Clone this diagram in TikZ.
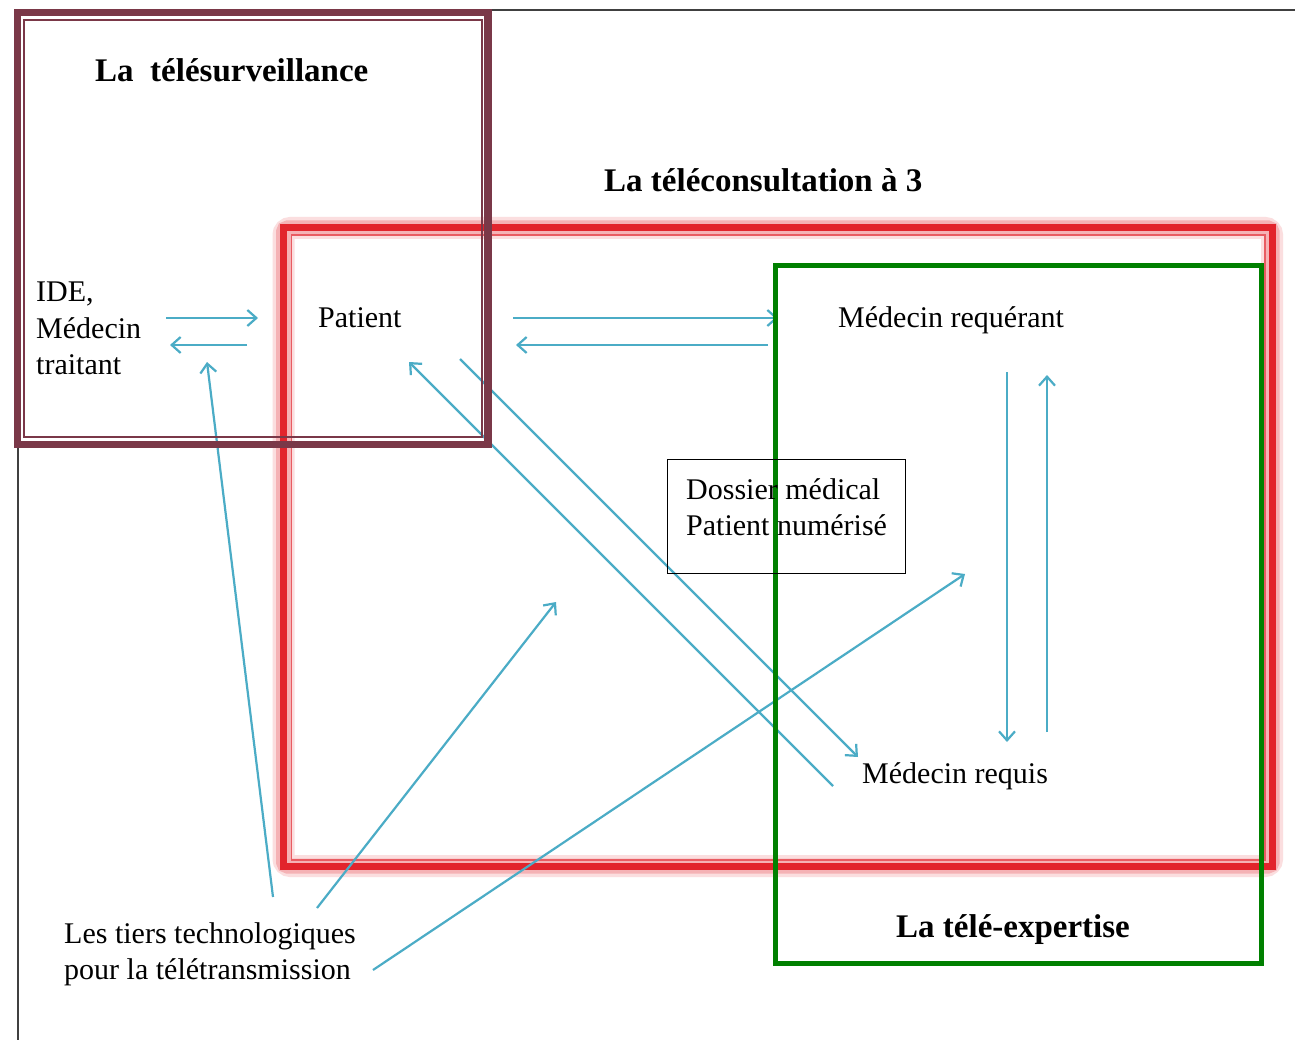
\documentclass[tikz,border=0pt]{standalone}
\usepackage{fontspec}
\setmainfont{Liberation Serif}
\usetikzlibrary{arrows.meta}
\definecolor{maroonbox}{RGB}{122,56,72}
\definecolor{redbox}{RGB}{226,36,44}
\definecolor{greenbox}{RGB}{0,128,0}
\definecolor{arrowblue}{RGB}{75,172,198}
\tikzset{
  conn/.style={draw=arrowblue, line width=2.2pt, -{Straight Barb[length=9pt,width=16pt,line width=2.2pt]}},
  plaintext/.style={anchor=base west, inner sep=0pt, font=\fontsize{30}{36.5}\selectfont},
  titletext/.style={anchor=base west, inner sep=0pt, font=\fontsize{33}{40}\selectfont\bfseries},
}
\begin{document}
\begin{tikzpicture}[x=1pt,y=-1pt]
\useasboundingbox (0,0) rectangle (1295,1040);
\fill[white] (0,0) rectangle (1295,1040);
% outer page frame
\draw[line width=2pt, black!75] (18,1045) -- (18,10) -- (1300,10);
% red box (la teleconsultation) with glow
\draw[redbox!15, line width=22pt, rounded corners=7pt] (283.5,228) rectangle (1272,866);
\draw[redbox!35, line width=15pt, rounded corners=4pt] (283.5,228) rectangle (1272,866);
\draw[redbox, line width=7pt] (283.5,228) rectangle (1272,866);
\draw[redbox!75, line width=1.5pt] (291.5,235) rectangle (1265,860);

% text nodes
\node[plaintext] (ide) at (36,302) {\begin{tabular}[t]{@{}l@{}}IDE,\\Médecin\\traitant\end{tabular}};
\node[plaintext] (patient) at (318,328) {Patient};
\node[plaintext] (requerant) at (838,328) {Médecin requérant};
\node[plaintext] (requis) at (862,783) {Médecin requis};
\node[plaintext] (tiers) at (64,943) {\begin{tabular}[t]{@{}l@{}}Les tiers technologiques\\pour la télétransmission\end{tabular}};

% connector end points
\coordinate (ideR1) at (166,318);  \coordinate (patL1) at (258,318);
\coordinate (patL2) at (247,345);  \coordinate (ideR2) at (170,345);
\coordinate (patR1) at (513,318);  \coordinate (reqL1) at (778,318);
\coordinate (reqL2) at (768,345);  \coordinate (patR2) at (516,345);
\coordinate (reqB1) at (1007,372); \coordinate (rqsT1) at (1007,742);
\coordinate (rqsT2) at (1047,732); \coordinate (reqB2) at (1047,375);
\coordinate (rqsL1) at (833,786);  \coordinate (patB1) at (409,362);
\coordinate (patB2) at (460,359);  \coordinate (rqsL2) at (858,757);
\coordinate (tiers1) at (273,897); \coordinate (ideB) at (207,362);
\coordinate (tiers2) at (317,908); \coordinate (centre) at (556,602);
\coordinate (tiers3) at (373,970); \coordinate (droite) at (965,574);

% connectors
\draw[conn] (ideR1) -- (patL1);
\draw[conn] (patL2) -- (ideR2);
\draw[conn] (patR1) -- (reqL1);
\draw[conn] (reqL2) -- (patR2);
\draw[conn] (reqB1) -- (rqsT1);
\draw[conn] (rqsT2) -- (reqB2);
\draw[conn] (rqsL1) -- (patB1);
\draw[conn] (patB2) -- (rqsL2);
\draw[conn] (tiers1) -- (ideB);
\draw[conn] (tiers2) -- (centre);
\draw[conn] (tiers3) -- (droite);

% green box (la tele-expertise)
\draw[greenbox, line width=5pt] (775.5,265.5) rectangle (1261,963);
% maroon box (la telesurveillance)
\draw[maroonbox, line width=7.5pt] (17.5,12.5) rectangle (488,444.5);
\draw[maroonbox, line width=1.2pt] (24,20) rectangle (482,437);

% dossier box
\node[draw=black, line width=1.3pt, minimum width=238pt, minimum height=114pt, anchor=north west, inner sep=0pt] (dossierbox) at (667,459) {};
\node[plaintext] (dossier) at (686,499) {\begin{tabular}[t]{@{}l@{}}Dossier médical\\Patient numérisé\end{tabular}};

% titles
\node[titletext] (tsurv) at (95,82) {La\ \ télésurveillance};
\node[titletext] (tcons) at (604,192) {La téléconsultation à 3};
\node[titletext] (texp) at (896,937) {La télé-expertise};
\end{tikzpicture}
\end{document}
